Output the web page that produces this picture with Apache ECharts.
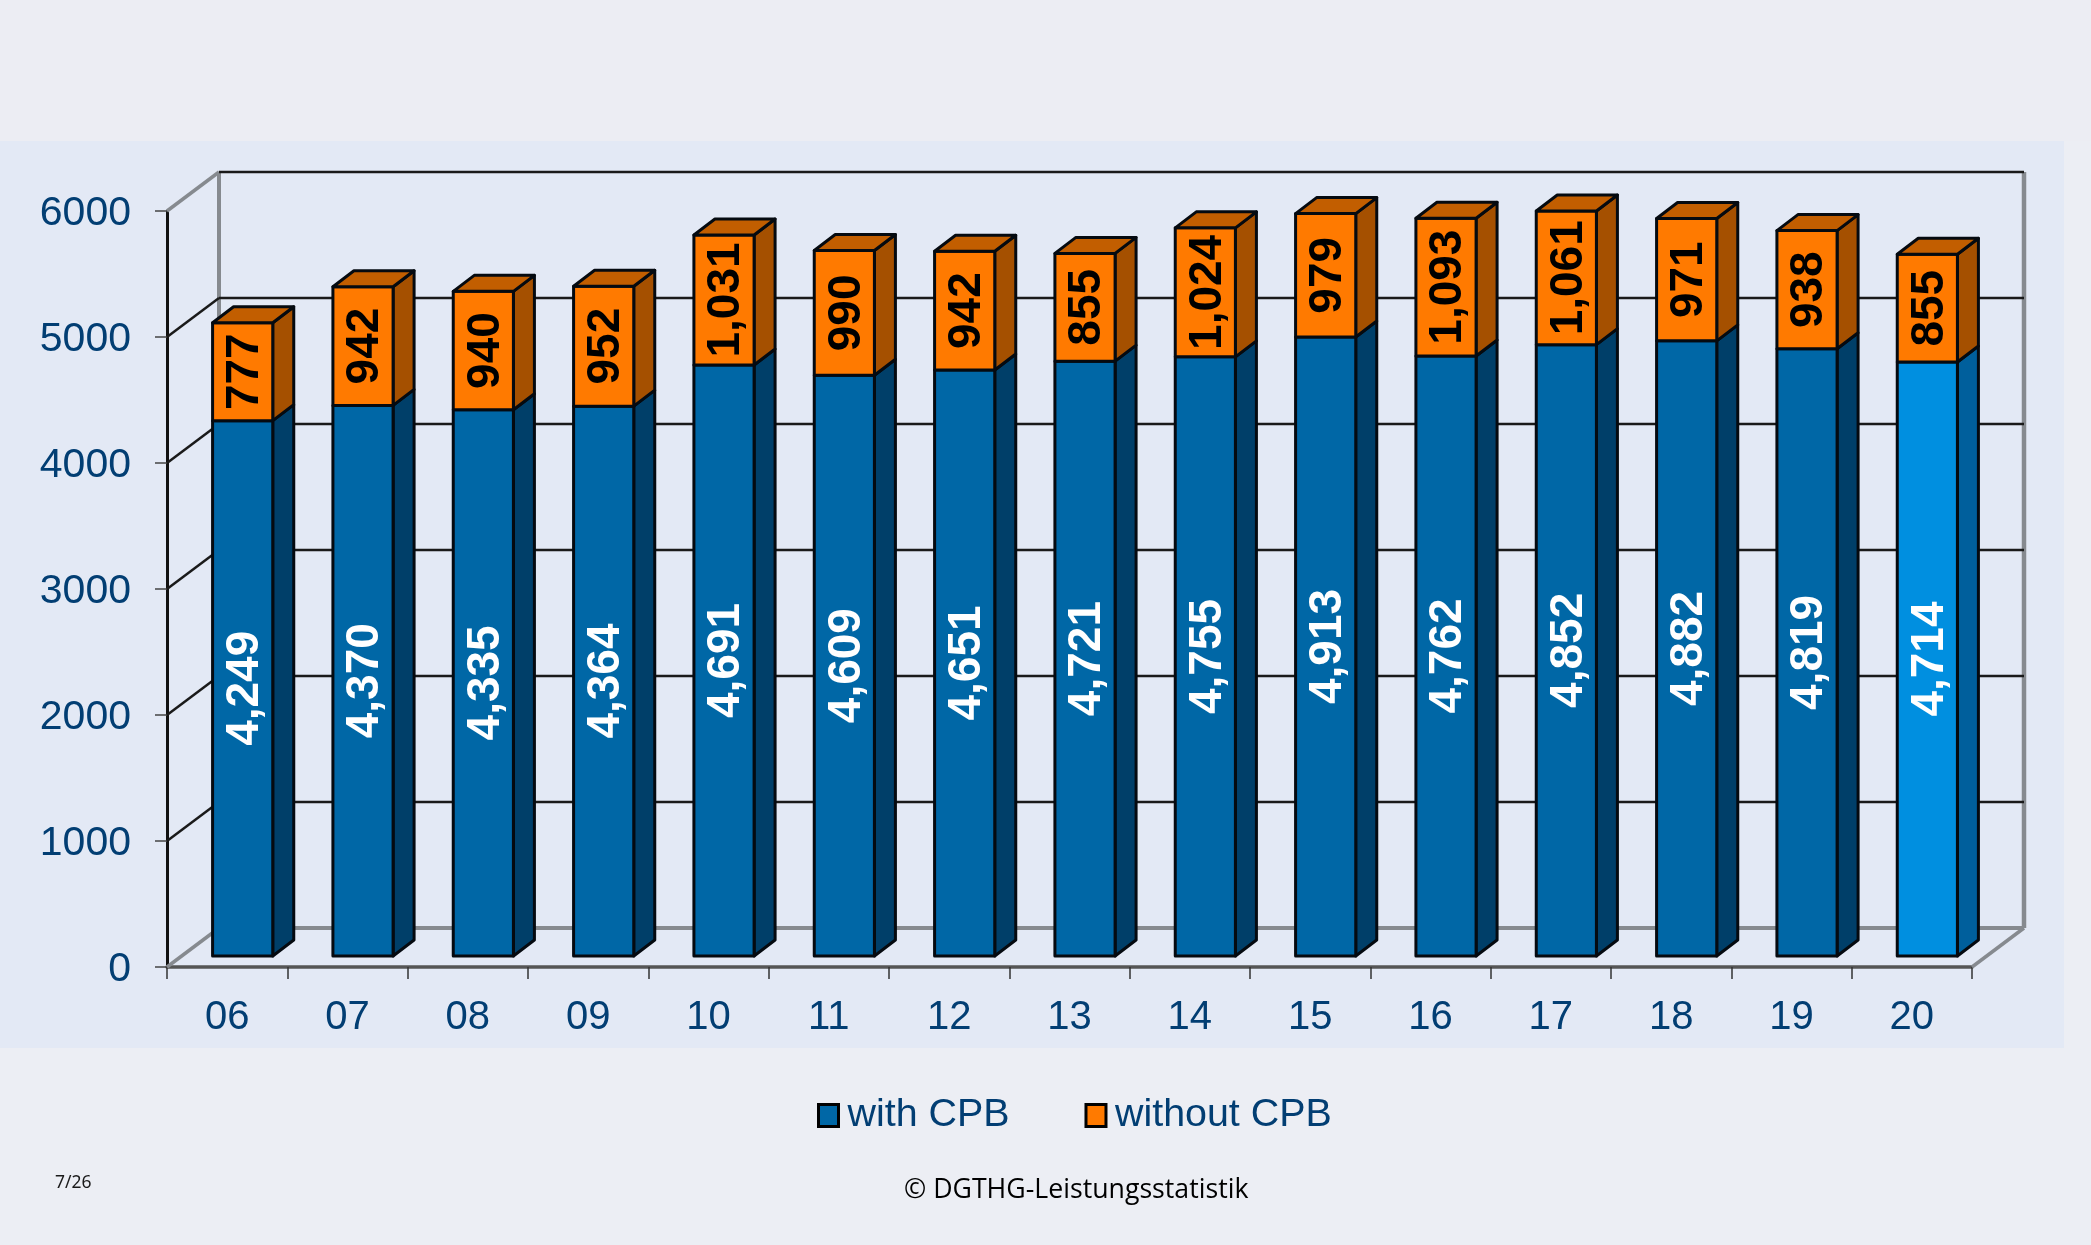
<!DOCTYPE html>
<html>
<head>
<meta charset="utf-8">
<style>html,body{margin:0;padding:0;background:#ECEEF4}#c{width:2091px;height:1245px}</style>
<script src="https://cdn.jsdelivr.net/npm/echarts@6/dist/echarts.min.js"></script>
</head>
<body>
<div id="c"></div>
<script>
const categories = ['06','07','08','09','10','11','12','13','14','15','16','17','18','19','20'];
const withCPB = [4249,4370,4335,4364,4691,4609,4651,4721,4755,4913,4762,4852,4882,4819,4714];
const withoutCPB = [777,942,940,952,1031,990,942,855,1024,979,1093,1061,971,938,855];
const yTicks = [0,1000,2000,3000,4000,5000,6000];
const highlightCategory = '20';

const FONT = '"Liberation Sans", Arial, sans-serif';
const NAVY = '#023E73';
const WALL_DX = 52, WALL_DY = -39;
const BAR_DX = 21, BAR_DY = -16, BAR_SHIFT_X = 15.5, BAR_SHIFT_Y = -11, BAR_RATIO = 0.5;
const C = {
  blue: {front:'#0067A6', side:'#003F69', top:'#00528A'},
  hi:   {front:'#008FE0', side:'#005F9C', top:'#0075BC'},
  org:  {front:'#FF7A00', side:'#A55000', top:'#C25E00'}
};

function cuboid(api, idx, lowVal, highVal, col, text, textColor, drawTop) {
  const bottom = api.coord([idx, lowVal]);
  const top = api.coord([idx, highVal]);
  const w = api.size([1, 0])[0] * BAR_RATIO;
  const x0 = bottom[0] + BAR_SHIFT_X - w / 2, x1 = x0 + w;
  const yB = bottom[1] + BAR_SHIFT_Y, yT = top[1] + BAR_SHIFT_Y;
  const line = {stroke:'#050A10', lineWidth:3, lineJoin:'round'};
  const kids = [
    {type:'polygon', shape:{points:[[x1,yB],[x1+BAR_DX,yB+BAR_DY],[x1+BAR_DX,yT+BAR_DY],[x1,yT]]},
     style:Object.assign({fill:col.side}, line)},
    {type:'rect', shape:{x:x0,y:yT,width:w,height:yB-yT}, style:Object.assign({fill:col.front}, line)}
  ];
  if (drawTop) kids.push({type:'polygon',
    shape:{points:[[x0,yT],[x1,yT],[x1+BAR_DX,yT+BAR_DY],[x0+BAR_DX,yT+BAR_DY]]},
    style:Object.assign({fill:col.top}, line)});
  kids.push({type:'text', x:(x0+x1)/2 + 2.5, y:(yT+yB)/2, rotation:Math.PI/2, z2:10,
    style:{text:text, font:'bold 46px '+FONT, fill:textColor, align:'center', verticalAlign:'middle'}});
  return {type:'group', children:kids};
}

const chart = echarts.init(document.getElementById('c'), null, {renderer:'canvas'});
chart.setOption({
  animation:false,
  backgroundColor:'#ECEEF4',
  graphic:[
    {type:'rect', z:-10, shape:{x:0,y:0,width:2091,height:141}, style:{fill:'#ECEDF3'}},
    {type:'rect', z:-10, shape:{x:0,y:141,width:2064,height:907}, style:{fill:'#E3E9F5'}},
    {type:'text', left:55, top:1174, style:{text:'7/26', font:'17.5px "Noto Sans", sans-serif', fill:'#1a1a1a'}},
    {type:'text', left:904, top:1177, style:{text:'© DGTHG-Leistungsstatistik', font:'26.7px "Open Sans", sans-serif', fill:'#000'}}
  ],
  legend:{
    left:812, top:1091, itemWidth:20, itemHeight:22, itemGap:75, selectedMode:false,
    textStyle:{color:NAVY, fontFamily:FONT, fontSize:39.4, padding:[0,0,0,4]},
    data:[
      {name:'with CPB', icon:'rect', itemStyle:{color:C.blue.front, borderColor:'#000', borderWidth:3}},
      {name:'without CPB', icon:'rect', itemStyle:{color:C.org.front, borderColor:'#000', borderWidth:3}}
    ]
  },
  grid:{left:167, right:119, top:211, bottom:278, containLabel:false},
  xAxis:{
    type:'category', data:categories, boundaryGap:true,
    axisLine:{show:true, onZero:false, lineStyle:{color:'#555', width:3.5}},
    axisTick:{show:true, length:12, alignWithLabel:false, lineStyle:{color:'#333', width:1.5}},
    axisLabel:{color:NAVY, fontFamily:FONT, fontSize:40, margin:31, interval:0},
    splitLine:{show:false}
  },
  yAxis:{
    type:'value', min:0, max:6000, interval:1000,
    axisLine:{show:true, lineStyle:{color:'#111', width:3}},
    axisTick:{show:true, length:12, lineStyle:{color:'#444', width:1.5}},
    axisLabel:{color:NAVY, fontFamily:FONT, fontSize:41, margin:36, verticalAlign:'top', lineHeight:6, formatter:v => String(v)},
    splitLine:{show:false}
  },
  series:[
    {
      type:'custom', name:'walls', coordinateSystem:'cartesian2d', silent:true, clip:false, z:1,
      encode:{x:0, y:1},
      data:yTicks.map(t => [0, t]),
      renderItem:(params, api) => {
        const cs = params.coordSys;
        const v = api.value(1);
        const y = api.coord([0, v])[1];
        const xF = cs.x, xB = cs.x + WALL_DX, xR = cs.x + cs.width + WALL_DX, yB = y + WALL_DY;
        const isEdge = v === yTicks[0] || v === yTicks[yTicks.length - 1];
        const dark = '#1A1A1A', grey = '#868A8F';
        const kids = [
          {type:'line', shape:{x1:xF,y1:y,x2:xB,y2:yB}, style:{stroke:isEdge ? grey : dark, lineWidth:isEdge ? 3.5 : 2.5}},
          {type:'line', shape:{x1:xB,y1:yB,x2:xR,y2:yB}, style:{stroke:v === yTicks[0] ? grey : dark, lineWidth:v === yTicks[0] ? 4 : 2.5}}
        ];
        if (v === yTicks[0]) {
          const yTop = api.coord([0, yTicks[yTicks.length - 1]])[1] + WALL_DY;
          kids.push({type:'line', shape:{x1:xB,y1:yB,x2:xB,y2:yTop}, style:{stroke:grey, lineWidth:4}});
          kids.push({type:'line', shape:{x1:xR,y1:yB,x2:xR,y2:yTop}, style:{stroke:grey, lineWidth:4.5}});
          kids.push({type:'line', shape:{x1:cs.x+cs.width,y1:y,x2:xR,y2:yB}, style:{stroke:grey, lineWidth:3.5}});
        }
        return {type:'group', children:kids};
      }
    },
    {
      type:'custom', name:'with CPB', coordinateSystem:'cartesian2d', clip:false, z:3,
      itemStyle:{color:C.blue.front}, encode:{x:0, y:1},
      data:withCPB.map((v, i) => [i, v]),
      renderItem:(params, api) => {
        const i = api.value(0), v = api.value(1);
        const col = categories[i] === highlightCategory ? C.hi : C.blue;
        return cuboid(api, i, 0, v, col, v.toLocaleString('en-US'), '#FFFFFF', false);
      }
    },
    {
      type:'custom', name:'without CPB', coordinateSystem:'cartesian2d', clip:false, z:4,
      itemStyle:{color:C.org.front}, encode:{x:0, y:1},
      data:withoutCPB.map((v, i) => [i, v]),
      renderItem:(params, api) => {
        const i = api.value(0), v = api.value(1);
        return cuboid(api, i, withCPB[i], withCPB[i] + v, C.org, v.toLocaleString('en-US'), '#000000', true);
      }
    }
  ]
});
</script>
</body>
</html>
